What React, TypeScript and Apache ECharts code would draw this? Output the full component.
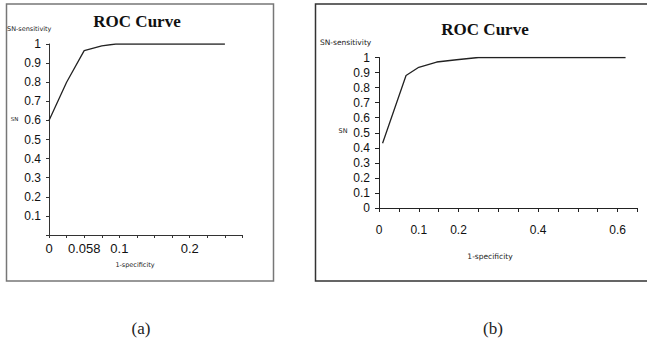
import React, { useEffect, useRef } from "react";
import * as echarts from "echarts";

// Panel (a) ROC curve points [1-specificity, sensitivity]
const rocA: [number, number][] = [
  [0, 0.6],
  [0.025, 0.8],
  [0.05, 0.965],
  [0.075, 0.99],
  [0.095, 1.0],
  [0.25, 1.0],
];
// Panel (b) ROC curve points
const rocB: [number, number][] = [
  [0.009, 0.43],
  [0.068, 0.88],
  [0.1, 0.935],
  [0.145, 0.97],
  [0.195, 0.985],
  [0.25, 1.0],
  [0.62, 1.0],
];
const xTickLabelsA: [number, string][] = [
  [0, "0"],
  [0.05, "0.058"],
  [0.1, "0.1"],
  [0.2, "0.2"],
];
const xTickLabelsB: [number, string][] = [
  [0, "0"],
  [0.1, "0.1"],
  [0.2, "0.2"],
  [0.4, "0.4"],
  [0.6, "0.6"],
];
const titleText = "ROC Curve";
const yTopLabel = "SN-sensitivity";
const yMidLabel = "SN";
const xAxisName = "1-specificity";
const captions = ["(a)", "(b)"];

const lookup = (list: [number, string][]) => (v: number) => {
  const r = Math.round(v * 1000) / 1000;
  const f = list.find((e) => Math.abs(e[0] - r) < 1e-6);
  return f ? f[1] : "";
};

export default function App() {
  const ref = useRef<HTMLDivElement>(null);
  useEffect(() => {
    if (!ref.current) return;
    const chart = echarts.init(ref.current, undefined, { renderer: "svg" });
    const serif = "Liberation Serif";
    const sans = "Liberation Sans";
    const small = "DejaVu Sans";
    chart.setOption({
      animation: false,
      backgroundColor: "#fff",
      grid: [
        { left: 49, top: 44, width: 193.5, height: 191, containLabel: false },
        { left: 379, top: 57.5, width: 258.5, height: 150.5, containLabel: false },
      ],
      xAxis: [
        {
          type: "value",
          gridIndex: 0,
          min: 0,
          max: 0.275,
          interval: 0.025,
          splitLine: { show: false },
          axisLine: { onZero: false, lineStyle: { color: "#333", width: 1 } },
          axisTick: { show: true, length: 3, lineStyle: { color: "#333" } },
          axisLabel: {
            formatter: lookup(xTickLabelsA),
            color: "#111",
            fontFamily: sans,
            fontSize: 13,
            margin: 7,
          },
        },
        {
          type: "value",
          gridIndex: 1,
          min: 0,
          max: 0.65,
          interval: 0.05,
          splitLine: { show: false },
          axisLine: { onZero: false, lineStyle: { color: "#222", width: 1 } },
          axisTick: { show: true, length: 4, lineStyle: { color: "#222" } },
          axisLabel: {
            formatter: lookup(xTickLabelsB),
            color: "#111",
            fontFamily: sans,
            fontSize: 12,
            margin: 16,
          },
        },
      ],
      yAxis: [
        {
          type: "value",
          gridIndex: 0,
          min: 0,
          max: 1,
          interval: 0.1,
          splitLine: { show: false },
          axisLine: { onZero: false, lineStyle: { color: "#333", width: 1 } },
          axisTick: { show: true, length: 3, lineStyle: { color: "#333" } },
          axisLabel: {
            formatter: (v: number) => (v === 0 ? "" : String(Math.round(v * 10) / 10)),
            color: "#111",
            fontFamily: sans,
            fontSize: 12,
            margin: 8,
          },
        },
        {
          type: "value",
          gridIndex: 1,
          min: 0,
          max: 1,
          interval: 0.1,
          splitLine: { show: false },
          axisLine: { onZero: false, lineStyle: { color: "#222", width: 1 } },
          axisTick: { show: true, length: 4, lineStyle: { color: "#222" } },
          axisLabel: {
            formatter: (v: number) => String(Math.round(v * 10) / 10),
            color: "#111",
            fontFamily: sans,
            fontSize: 12,
            margin: 9,
          },
        },
      ],
      series: [
        {
          type: "line",
          xAxisIndex: 0,
          yAxisIndex: 0,
          data: rocA,
          showSymbol: false,
          lineStyle: { color: "#222", width: 1.3 },
        },
        {
          type: "line",
          xAxisIndex: 1,
          yAxisIndex: 1,
          data: rocB,
          showSymbol: false,
          lineStyle: { color: "#222", width: 1.3 },
        },
      ],
      graphic: [
        {
          type: "rect",
          shape: { x: 6.5, y: 4, width: 267, height: 277 },
          style: { fill: "none", stroke: "#777", lineWidth: 1.5 },
        },
        {
          type: "rect",
          shape: { x: 315.5, y: 4, width: 340, height: 277 },
          style: { fill: "none", stroke: "#333", lineWidth: 1.5 },
        },
        {
          type: "text",
          x: 137,
          y: 21,
          style: { text: titleText, font: `bold 17px ${serif}`, fill: "#111", textAlign: "center", textVerticalAlign: "middle" },
        },
        {
          type: "text",
          x: 485,
          y: 29,
          style: { text: titleText, font: `bold 17px ${serif}`, fill: "#111", textAlign: "center", textVerticalAlign: "middle" },
        },
        {
          type: "text",
          x: 7,
          y: 29,
          style: { text: yTopLabel, font: `6.5px ${small}`, fill: "#222", textAlign: "left", textVerticalAlign: "middle" },
        },
        {
          type: "text",
          x: 320,
          y: 42,
          style: { text: yTopLabel, font: `7.5px ${small}`, fill: "#222", textAlign: "left", textVerticalAlign: "middle" },
        },
        {
          type: "text",
          x: 14.5,
          y: 119,
          style: { text: yMidLabel, font: `5.5px ${small}`, fill: "#222", textAlign: "center", textVerticalAlign: "middle" },
        },
        {
          type: "text",
          x: 343,
          y: 131,
          style: { text: yMidLabel, font: `6.5px ${small}`, fill: "#222", textAlign: "center", textVerticalAlign: "middle" },
        },
        {
          type: "text",
          x: 135,
          y: 265,
          style: { text: xAxisName, font: `6.5px ${small}`, fill: "#222", textAlign: "center", textVerticalAlign: "middle" },
        },
        {
          type: "text",
          x: 490,
          y: 256,
          style: { text: xAxisName, font: `7.5px ${small}`, fill: "#222", textAlign: "center", textVerticalAlign: "middle" },
        },
        {
          type: "text",
          x: 141,
          y: 328,
          style: { text: captions[0], font: `17px ${serif}`, fill: "#222", textAlign: "center", textVerticalAlign: "middle" },
        },
        {
          type: "text",
          x: 493,
          y: 328,
          style: { text: captions[1], font: `17px ${serif}`, fill: "#222", textAlign: "center", textVerticalAlign: "middle" },
        },
      ],
    });
    return () => chart.dispose();
  }, []);
  return (
    <div
      ref={ref}
      style={{ position: "fixed", left: 0, top: 0, width: 647, height: 347 }}
    />
  );
}
